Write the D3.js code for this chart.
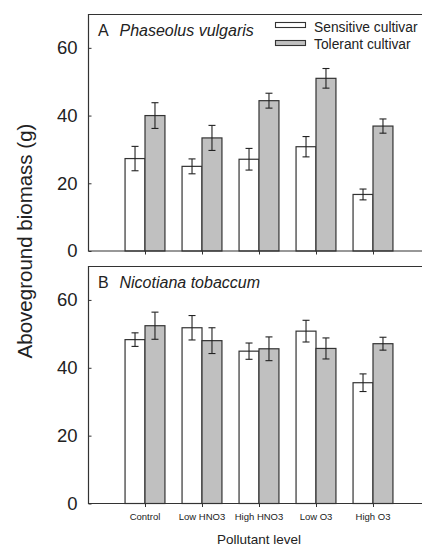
<!DOCTYPE html>
<html>
<head>
<meta charset="utf-8">
<script src="https://cdn.jsdelivr.net/npm/d3@7"></script>
<style>
    body { margin: 0; background: #fff; }
    svg { display: block; font-family: "Liberation Sans", Arial, Helvetica, sans-serif; }
</style>
</head>
<body>
<div id="chart"></div>
<script>
/*
    Data
*/
const categories = ["Control", "Low HNO3", "High HNO3", "Low O3", "High O3"];
const yTicks = [0, 20, 40, 60];

// Panel A - Phaseolus vulgaris
const phaseolusSensitive = [27.3, 25.0, 27.1, 30.8, 16.7];
const phaseolusSensitiveErr = [3.6, 2.2, 3.2, 3.0, 1.6];
const phaseolusTolerant = [40.0, 33.4, 44.4, 51.0, 36.9];
const phaseolusTolerantErr = [3.8, 3.7, 2.2, 2.9, 2.1];

// Panel B - Nicotiana tobaccum
const nicotianaSensitive = [48.3, 51.8, 44.9, 50.8, 35.6];
const nicotianaSensitiveErr = [2.0, 3.6, 2.4, 3.2, 2.6];
const nicotianaTolerant = [52.4, 48.0, 45.6, 45.7, 47.1];
const nicotianaTolerantErr = [4.0, 3.8, 3.5, 3.1, 1.9];

const seriesNames = ["Sensitive cultivar", "Tolerant cultivar"];
const seriesFill = ["#ffffff", "#c0c0c0"];

/*
    Drawing
*/
const width = 422;
const height = 548;
const left = 88;
const right = 430;   // plot box runs past the right edge of the picture
const ink = "#222";

const svg = d3.select("#chart").append("svg")
    .attr("width", width)
    .attr("height", height);

const x = d3.scalePoint()
    .domain(categories)
    .range([left, right])
    .padding(1);
const barW = x.step() * 0.35;

function drawPanel(top, bottom, letter, species, sens, sensErr, tol, tolErr, showLegend) {
    const y = d3.scaleLinear().domain([0, 70]).range([bottom, top]);
    const g = svg.append("g");

    const rows = categories.map((c, i) => [
        { cat: c, s: 0, v: sens[i], e: sensErr[i] },
        { cat: c, s: 1, v: tol[i], e: tolErr[i] }
    ]).flat();

    // Bars
    g.selectAll("rect.bar")
        .data(rows)
        .enter()
        .append("rect")
        .attr("class", "bar")
        .attr("x", d => x(d.cat) - barW + d.s * barW)
        .attr("y", d => y(d.v))
        .attr("width", barW)
        .attr("height", d => y(0) - y(d.v))
        .attr("fill", d => seriesFill[d.s])
        .attr("stroke", "#333")
        .attr("stroke-width", 1.2);

    // Error bars
    const cap = 3.5;
    const eb = g.selectAll("g.err")
        .data(rows)
        .enter()
        .append("g")
        .attr("class", "err")
        .attr("stroke", "#222")
        .attr("stroke-width", 1.1);
    const cx = d => x(d.cat) - barW / 2 + d.s * barW;
    eb.append("line")
        .attr("x1", cx).attr("x2", cx)
        .attr("y1", d => y(d.v + d.e)).attr("y2", d => y(d.v - d.e));
    eb.append("line")
        .attr("x1", d => cx(d) - cap).attr("x2", d => cx(d) + cap)
        .attr("y1", d => y(d.v + d.e)).attr("y2", d => y(d.v + d.e));
    eb.append("line")
        .attr("x1", d => cx(d) - cap).attr("x2", d => cx(d) + cap)
        .attr("y1", d => y(d.v - d.e)).attr("y2", d => y(d.v - d.e));

    // Frame (top + left + bottom)
    g.append("path")
        .attr("d", `M${right},${top + 0.5}H${left + 0.5}V${bottom}H${right}`)
        .attr("fill", "none")
        .attr("stroke", "#333")
        .attr("stroke-width", 1.2);

    // Y axis, ticks inward
    const yAxis = g.append("g")
        .attr("transform", `translate(${left + 0.5},0)`)
        .call(d3.axisRight(y).tickValues(yTicks).tickSize(3).tickFormat(d3.format("d")));
    yAxis.select(".domain").remove();
    yAxis.selectAll(".tick line").attr("stroke", "#333");
    yAxis.selectAll(".tick text")
        .attr("x", -11)
        .attr("text-anchor", "end")
        .attr("fill", ink)
        .style("font-size", "18.5px")
        .style("font-family", "Liberation Sans, Arial, sans-serif");

    // X axis ticks, outward
    const xAxis = g.append("g")
        .attr("transform", `translate(0,${bottom})`)
        .call(d3.axisBottom(x).tickSize(3.5).tickFormat(""));
    xAxis.select(".domain").remove();
    xAxis.selectAll(".tick line").attr("stroke", "#333");

    // Panel label
    const lab = g.append("text")
        .attr("x", 98)
        .attr("y", top + 21.5)
        .attr("fill", ink)
        .style("font-size", "16px");
    lab.append("tspan").text(letter);
    lab.append("tspan").attr("x", 119.5).style("font-style", "italic").text(species);

    if (showLegend) {
        seriesNames.forEach((name, i) => {
            g.append("rect")
                .attr("x", 275.5)
                .attr("y", 22.5 + i * 18)
                .attr("width", 30)
                .attr("height", 5)
                .attr("fill", seriesFill[i])
                .attr("stroke", "#333")
                .attr("stroke-width", 1.1);
            g.append("text")
                .attr("x", 314)
                .attr("y", 31.5 + i * 17.5)
                .attr("fill", ink)
                .style("font-size", "13.8px")
                .text(name);
        });
    }
    return g;
}

drawPanel(14, 251, "A", "Phaseolus vulgaris",
    phaseolusSensitive, phaseolusSensitiveErr, phaseolusTolerant, phaseolusTolerantErr, true);
drawPanel(266, 503.5, "B", "Nicotiana tobaccum",
    nicotianaSensitive, nicotianaSensitiveErr, nicotianaTolerant, nicotianaTolerantErr, false);

// Category labels
svg.selectAll("text.cat")
    .data(categories)
    .enter()
    .append("text")
    .attr("class", "cat")
    .attr("x", d => x(d))
    .attr("y", 520)
    .attr("text-anchor", "middle")
    .attr("fill", ink)
    .style("font-size", "9.5px")
    .text(d => d);

// Axis titles
svg.append("text")
    .attr("x", (left + right) / 2)
    .attr("y", 544)
    .attr("text-anchor", "middle")
    .attr("fill", ink)
    .style("font-size", "13.5px")
    .text("Pollutant level");
svg.append("text")
    .attr("transform", "translate(32,241) rotate(-90)")
    .attr("text-anchor", "middle")
    .attr("fill", ink)
    .style("font-size", "20.5px")
    .text("Aboveground biomass (g)");
</script>
</body>
</html>
